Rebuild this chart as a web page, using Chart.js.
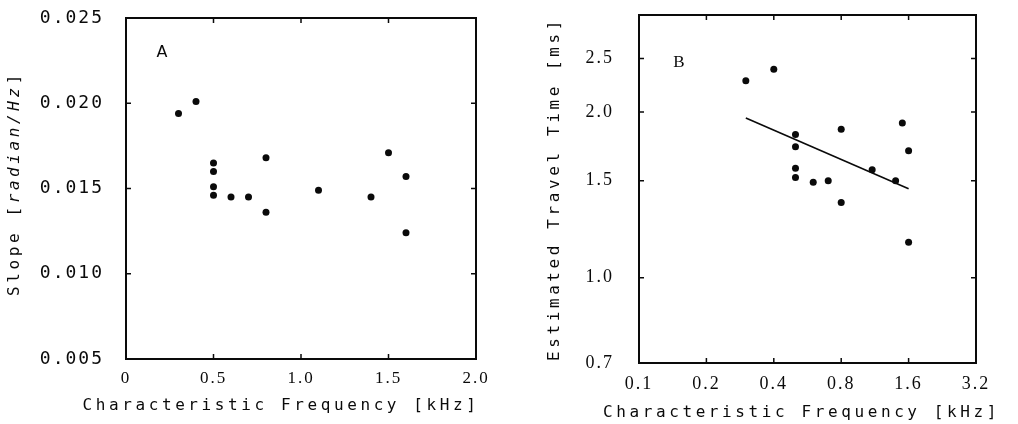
<!DOCTYPE html>
<html lang="en">
<head>
  <meta charset="UTF-8" />
  <title>Slope and travel time vs characteristic frequency</title>
  <script src="https://cdn.jsdelivr.net/npm/chart.js"></script>
  <style>
    html, body { margin: 0; padding: 0; background: #fff; }
    .panel { position: absolute; top: 0; width: 509px; height: 424px; }
  </style>
</head>
<body>
  <!-- Panel A: slope, linear axes -->
  <div class="panel" style="left:0"><canvas id="slopeChart" width="509" height="424"></canvas></div>
  <!-- Panel B: travel time, log-log axes -->
  <div class="panel" style="left:509px"><canvas id="travelChart" width="509" height="424"></canvas></div>

  <script>
    // same units in both panels, characteristic frequency in kHz
    const cfKHz    = [0.3, 0.4, 0.5, 0.5, 0.5, 0.5, 0.6, 0.7, 0.8, 0.8, 1.1, 1.4, 1.5, 1.6, 1.6];
    const slope    = [0.0194, 0.0201, 0.0165, 0.0160, 0.0151, 0.0146, 0.0145, 0.0145, 0.0168, 0.0136, 0.0149, 0.0145, 0.0171, 0.0157, 0.0124];
    const travelMs = [2.28, 2.39, 1.82, 1.73, 1.58, 1.52, 1.49, 1.50, 1.86, 1.37, 1.57, 1.50, 1.91, 1.70, 1.16];

    // regression line in panel B
    const fitCf = [0.3, 1.6];
    const fitMs = [1.95, 1.45];

    const slopeXTicks  = [0, 0.5, 1.0, 1.5, 2.0];
    const slopeXLabels = ['0', '0.5', '1.0', '1.5', '2.0'];
    const slopeYTicks  = [0.005, 0.010, 0.015, 0.020, 0.025];
    const slopeYLabels = ['0.005', '0.010', '0.015', '0.020', '0.025'];
    const travelXTicks  = [0.1, 0.2, 0.4, 0.8, 1.6, 3.2];
    const travelXLabels = ['0.1', '0.2', '0.4', '0.8', '1.6', '3.2'];
    const travelYTicks  = [0.7, 1.0, 1.5, 2.0, 2.5];
    const travelYLabels = ['0.7', '1.0', '1.5', '2.0', '2.5'];

    // axis titles as runs, so part of a title can be italic
    const xTitle = [{ text: 'Characteristic Frequency [kHz]' }];
    const slopeTitle = [{ text: 'Slope [' }, { text: 'radian/Hz', italic: true }, { text: ']' }];
    const travelTitle = [{ text: 'Estimated Travel Time [ms]' }];

    const INK = '#0a0a0a';
    const MONO = '"DejaVu Sans Mono", monospace';
    const SERIF = '"Liberation Serif", serif';
    const TICK = 5;

    const fixedTicks = values => scale => { scale.ticks = values.map(v => ({ value: v })); };
    const toPoints = (xs, ys) => xs.map((x, i) => ({ x: x, y: ys[i] }));

    // titles use the wide plotter pitch
    function drawRuns(ctx, runs, x, y, rotate) {
      const fontFor = r => (r.italic ? 'italic ' : '') + '16px ' + MONO;
      ctx.save();
      ctx.letterSpacing = '3.6px';
      let total = 0;
      runs.forEach(r => { ctx.font = fontFor(r); total += ctx.measureText(r.text).width; });
      ctx.translate(x, y);
      if (rotate) ctx.rotate(-Math.PI / 2);
      ctx.textAlign = 'left';
      ctx.textBaseline = 'middle';
      let cx = -total / 2;
      runs.forEach(r => {
        ctx.font = fontFor(r);
        ctx.fillText(r.text, cx, 0);
        cx += ctx.measureText(r.text).width;
      });
      ctx.restore();
    }

    // closed frame with inward ticks, titles, panel letter
    const plotter = {
      id: 'plotter',
      beforeLayout(chart, args, opts) { chart.ctx.letterSpacing = opts.spacing; },
      beforeDraw(chart, args, opts) { chart.ctx.letterSpacing = opts.spacing; },
      afterDraw(chart, args, opts) {
        const { ctx, chartArea: a, scales } = chart;
        ctx.save();
        ctx.strokeStyle = INK;
        ctx.lineWidth = 2;
        ctx.strokeRect(a.left, a.top, a.right - a.left, a.bottom - a.top);
        ctx.lineWidth = 1.5;
        ctx.beginPath();
        scales.x.ticks.forEach(t => {
          const px = scales.x.getPixelForValue(t.value);
          if (px <= a.left + 1 || px >= a.right - 1) return;
          ctx.moveTo(px, a.bottom); ctx.lineTo(px, a.bottom - TICK);
          ctx.moveTo(px, a.top);    ctx.lineTo(px, a.top + TICK);
        });
        scales.y.ticks.forEach(t => {
          const py = scales.y.getPixelForValue(t.value);
          if (py <= a.top + 1 || py >= a.bottom - 1) return;
          ctx.moveTo(a.left, py);  ctx.lineTo(a.left + TICK, py);
          ctx.moveTo(a.right, py); ctx.lineTo(a.right - TICK, py);
        });
        ctx.stroke();
        ctx.fillStyle = INK;
        const midX = (a.left + a.right) / 2, midY = (a.top + a.bottom) / 2;
        drawRuns(ctx, opts.xTitle, midX + opts.xTitleDx, opts.xTitleY, false);
        drawRuns(ctx, opts.yTitle, opts.yTitleX, midY + opts.yTitleDy, true);
        ctx.font = opts.letterFont;
        ctx.textAlign = 'center';
        ctx.textBaseline = 'middle';
        ctx.fillText(opts.letter, a.left + opts.letterDx, a.top + opts.letterDy);
        ctx.restore();
      }
    };

    function axis(cfg) {
      return Object.assign({
        grid: { display: false, drawTicks: false },
        border: { display: false },
        afterBuildTicks: fixedTicks(cfg.values),
        ticks: {
          callback: (v, i) => cfg.labels[i],
          color: INK, padding: cfg.pad, font: cfg.font,
          maxRotation: 0, autoSkip: false
        },
        title: { display: false }
      }, cfg.extra);
    }

    // fixed axis boxes so the plot frame lands where the reference has it
    const xBox = h => s => { s.height = h; s.paddingLeft = 0; s.paddingRight = 0; };
    const yBox = w => s => { s.width = w; s.paddingTop = 0; s.paddingBottom = 0; };

    new Chart(document.getElementById('slopeChart'), {
      type: 'scatter',
      data: {
        datasets: [{
          data: toPoints(cfKHz, slope),
          backgroundColor: INK, borderWidth: 0, pointRadius: 3.5
        }]
      },
      options: {
        responsive: false, animation: false, events: [],
        layout: { padding: { top: 18, right: 33, left: 0, bottom: 0 } },
        scales: {
          x: axis({
            values: slopeXTicks, labels: slopeXLabels, pad: 9,
            font: { family: SERIF, size: 17 },
            extra: { type: 'linear', min: 0, max: 2, afterFit: xBox(65) }
          }),
          y: axis({
            values: slopeYTicks, labels: slopeYLabels, pad: 22,
            font: { family: MONO, size: 18 },
            extra: { type: 'linear', min: 0.005, max: 0.025, afterFit: yBox(126) }
          })
        },
        plugins: {
          legend: { display: false },
          tooltip: { enabled: false },
          plotter: {
            spacing: '2px',
            xTitle: xTitle, xTitleDx: -20, xTitleY: 406,
            yTitle: slopeTitle, yTitleX: 15, yTitleDy: -5,
            letter: 'A', letterFont: '16px "DejaVu Sans"', letterDx: 37, letterDy: 35
          }
        }
      },
      plugins: [plotter]
    });

    new Chart(document.getElementById('travelChart'), {
      type: 'scatter',
      data: {
        datasets: [{
          data: toPoints(cfKHz, travelMs),
          backgroundColor: INK, borderWidth: 0, pointRadius: 3.5
        }, {
          type: 'line',
          data: toPoints(fitCf, fitMs),
          borderColor: INK, borderWidth: 1.6, pointRadius: 0, fill: false
        }]
      },
      options: {
        responsive: false, animation: false, events: [],
        layout: { padding: { top: 15, right: 42, left: 0, bottom: 0 } },
        scales: {
          x: axis({
            values: travelXTicks, labels: travelXLabels, pad: 10,
            font: { family: SERIF, size: 18 },
            extra: { type: 'logarithmic', min: 0.1, max: 3.2, afterFit: xBox(61) }
          }),
          y: axis({
            values: travelYTicks, labels: travelYLabels, pad: 25,
            font: { family: SERIF, size: 18 },
            extra: { type: 'logarithmic', min: 0.7, max: 3.0, afterFit: yBox(130) }
          })
        },
        plugins: {
          legend: { display: false },
          tooltip: { enabled: false },
          plotter: {
            spacing: '2px',
            xTitle: xTitle, xTitleDx: -6, xTitleY: 413,
            yTitle: travelTitle, yTitleX: 46, yTitleDy: 0,
            letter: 'B', letterFont: '17px "Liberation Serif"', letterDx: 41, letterDy: 48
          }
        }
      },
      plugins: [plotter]
    });
  </script>
</body>
</html>
